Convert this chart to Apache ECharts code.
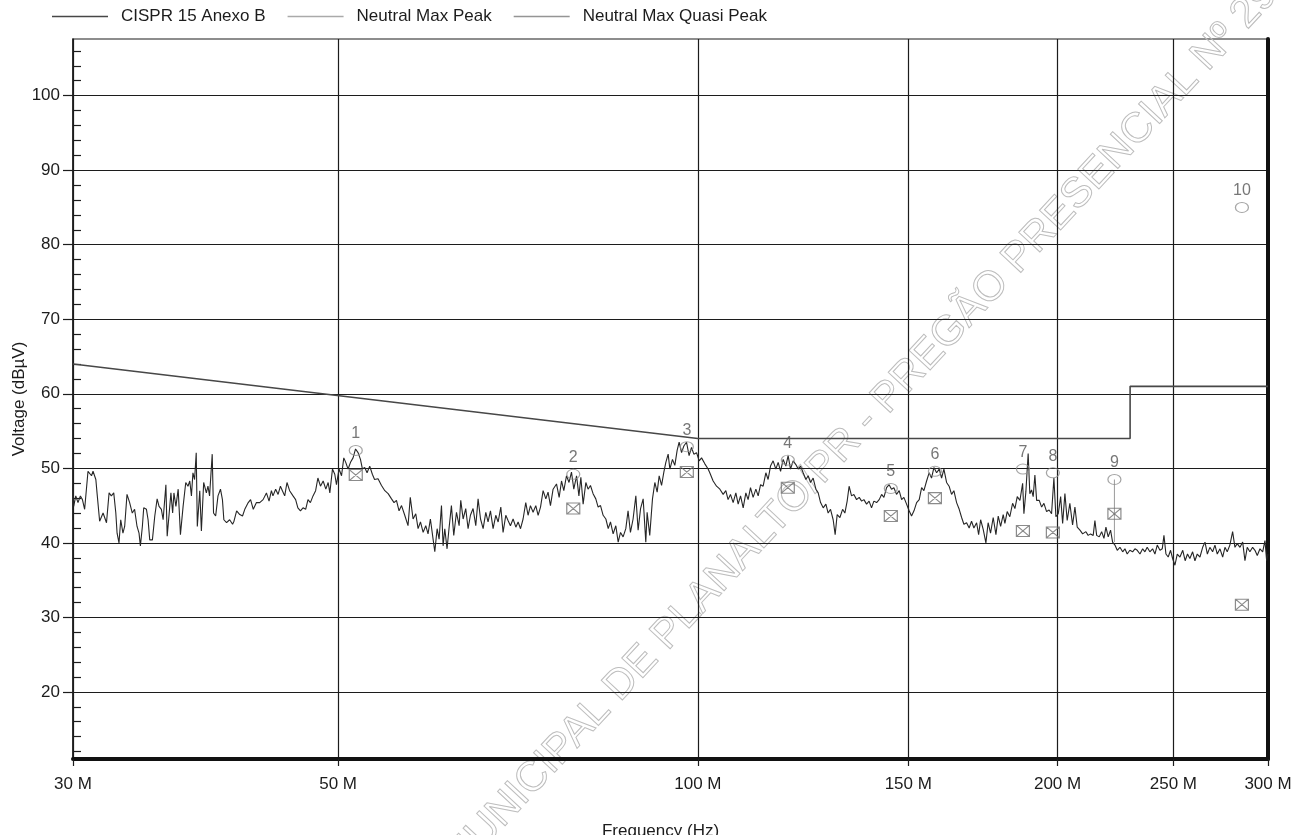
<!DOCTYPE html>
<html><head><meta charset="utf-8">
<script src="https://cdn.jsdelivr.net/npm/echarts@6/dist/echarts.min.js"></script>
<style>html,body{margin:0;padding:0;background:#fff}#c{width:1296px;height:835px}</style>
</head><body><div id="c"></div>
<script>
// ---- data ----
const xTickFreqs = [30, 50, 100, 150, 200, 250, 300];           // MHz
const yTickLevels = [20, 30, 40, 50, 60, 70, 80, 90, 100];      // dBuV
const yMinorLevels = [12,14,16,18,22,24,26,28,32,34,36,38,42,44,46,48,52,54,56,58,62,64,66,68,72,74,76,78,82,84,86,88,92,94,96,98,102,104,106];
const limitFreq  = [30, 100, 230, 230, 300];
const limitLevel = [64, 54, 54, 61, 61];
const markerFreq = [51.73, 78.66, 97.90, 118.93, 145.04, 157.90, 187.08, 198.20, 223.15, 285.3];
const peakLevel  = [52.4, 49.2, 52.9, 51.1, 47.3, 49.6, 49.9, 49.4, 48.5, 85.0];
const qpLevel    = [49.1, 44.6, 49.5, 47.4, 43.6, 46.0, 41.6, 41.4, 43.9, 31.7];
const dropLineLevels = [48.5, 40.1];
const traceFreq = [
30.00,30.04,30.16,30.29,30.43,30.55,30.68,30.88,31.09,31.18,31.35,31.43,31.58,31.79,32.00,32.16,32.30,32.45,32.58,32.66,
32.78,32.89,33.03,33.14,33.29,33.46,33.63,33.78,33.94,34.07,34.16,34.29,34.38,34.56,34.67,34.78,34.96,35.12,35.28,35.41,
35.57,35.69,35.88,35.97,36.11,36.23,36.35,36.44,36.58,36.74,36.90,37.09,37.28,37.44,37.57,37.69,37.80,37.92,38.04,38.12,
38.30,38.42,38.59,38.79,38.91,39.03,39.23,39.33,39.49,39.67,39.86,40.01,40.12,40.33,40.57,40.80,40.91,41.12,41.37,41.59,
41.77,42.05,42.24,42.46,42.72,42.99,43.27,43.55,43.77,43.97,44.10,44.33,44.54,44.74,44.91,45.11,45.31,45.54,45.84,46.07,
46.27,46.50,46.73,46.97,47.18,47.40,47.64,47.88,48.09,48.33,48.58,48.83,49.05,49.21,49.46,49.68,49.84,50.09,50.33,50.55,
50.74,50.97,51.21,51.46,51.71,51.96,52.20,52.40,52.63,52.87,53.14,53.41,53.64,54.00,54.36,54.71,55.06,55.42,55.69,55.95,
56.23,56.50,56.85,57.21,57.46,57.77,58.07,58.33,58.60,58.90,59.20,59.46,59.73,60.04,60.24,60.51,60.74,61.02,61.21,61.41,
61.68,61.91,62.20,62.48,62.81,63.13,63.33,63.62,63.94,64.23,64.52,64.85,65.19,65.48,65.79,66.12,66.46,66.75,67.06,67.40,
67.75,68.06,68.41,68.71,69.07,69.37,69.69,70.05,70.42,70.73,71.06,71.41,71.78,72.10,72.43,72.80,73.18,73.51,73.85,74.22,
74.61,74.93,75.28,75.66,76.16,76.55,76.90,77.24,77.64,78.02,78.39,78.74,79.16,79.52,79.82,80.17,80.59,80.94,81.31,81.72,
82.15,82.52,82.90,83.32,83.76,84.14,84.51,84.94,85.38,85.77,86.16,86.59,87.04,87.42,87.82,88.27,88.74,89.13,89.55,90.00,
90.46,90.69,91.15,91.63,92.05,92.46,92.82,93.25,93.66,94.02,94.44,94.75,95.23,95.66,96.09,96.46,96.91,97.34,97.84,98.33,
98.79,99.23,99.75,100.26,100.72,101.36,102.00,102.33,102.99,103.67,104.34,105.00,105.54,106.00,106.49,107.04,107.60,108.08,108.58,109.13,
109.69,110.17,110.68,111.24,111.83,112.33,112.85,113.41,114.00,114.50,115.03,115.61,116.22,116.74,117.28,117.87,118.48,119.00,119.55,120.16,
120.79,121.33,121.89,122.50,123.14,123.69,124.25,124.88,125.54,126.10,126.68,127.32,127.98,128.54,129.13,129.79,130.29,130.80,131.49,132.17,
132.75,133.34,133.84,134.47,135.07,135.78,136.47,137.10,137.71,138.42,139.09,139.75,140.38,141.12,141.83,142.49,143.12,143.86,144.57,145.24,
145.90,146.64,147.40,148.09,148.74,149.51,150.25,150.95,151.66,152.43,153.20,153.91,154.59,155.39,156.15,156.88,157.59,158.42,159.22,159.95,
160.66,161.49,162.28,163.05,163.78,164.64,165.47,166.24,166.97,167.84,168.67,169.45,170.22,171.11,171.78,172.44,173.30,174.20,174.95,175.77,
176.67,177.60,178.39,179.22,180.11,180.70,181.50,182.42,183.39,184.22,185.05,186.01,186.98,187.44,188.16,188.98,189.59,190.22,190.82,191.45,
192.09,193.06,193.95,194.81,195.81,196.77,197.70,198.59,199.36,200.26,201.19,201.96,202.85,203.74,204.79,205.87,206.80,207.72,208.81,209.90,
211.22,212.14,213.13,214.21,214.92,215.64,216.72,217.73,218.69,219.53,220.50,221.50,222.37,223.37,224.37,225.54,226.72,227.72,228.72,229.89,
231.11,232.15,233.19,234.41,235.63,236.67,237.70,238.92,240.19,241.27,242.35,243.62,244.70,245.50,246.44,247.52,248.65,249.62,250.75,251.88,
253.19,254.56,255.73,256.90,258.07,259.44,260.61,261.77,263.14,264.51,265.71,266.92,268.21,269.64,270.85,272.06,273.48,274.91,276.12,277.34,
278.75,280.23,281.49,282.75,284.23,285.71,286.97,288.23,289.71,291.24,292.55,293.86,295.40,296.94,298.25,299.22,300.00
];
const traceLevel = [
47.6,44.9,46.3,45.4,46.3,45.8,44.5,49.6,49.0,49.6,48.5,46.5,42.9,44.0,42.7,46.7,46.3,46.7,44.0,41.3,
40.0,43.1,41.3,42.2,46.5,45.4,44.0,44.5,42.2,41.3,39.6,42.2,44.7,44.5,43.1,40.4,40.4,43.6,45.9,44.9,
44.5,43.1,47.8,40.9,44.0,46.7,44.0,46.7,44.9,47.2,41.1,44.9,48.1,47.6,48.3,46.3,49.4,48.5,52.1,42.2,
47.0,41.6,48.1,46.7,47.6,46.3,51.9,44.0,43.6,46.3,47.2,45.8,43.1,42.7,43.1,42.5,42.9,44.3,43.8,43.6,
44.5,45.4,45.8,44.5,45.4,45.4,45.8,46.7,45.6,47.0,46.3,47.2,46.5,47.6,47.0,46.3,48.1,47.0,46.3,45.8,
44.7,44.3,44.7,44.5,45.8,45.4,46.3,47.0,48.7,47.6,48.3,47.2,48.1,46.7,49.9,49.2,47.8,49.9,49.0,51.4,
50.8,49.9,50.8,51.4,52.6,52.1,51.2,49.9,50.1,49.4,50.3,49.2,48.5,48.6,47.7,47.0,46.6,45.9,45.4,45.7,
44.3,45.0,43.7,42.3,46.1,43.2,43.9,41.9,42.8,41.4,42.3,41.2,43.2,40.5,38.8,41.9,40.5,45.0,39.6,41.9,
39.2,41.9,45.0,41.0,44.1,42.3,45.7,43.2,44.6,41.9,43.7,44.6,42.3,45.9,43.2,41.9,44.1,42.8,44.3,41.9,
43.7,42.8,44.8,41.4,43.7,43.0,42.3,43.2,42.1,42.8,41.9,43.2,45.4,43.7,45.0,44.1,45.0,43.7,44.8,47.0,
45.9,46.8,45.0,47.2,47.9,46.1,48.3,47.0,49.0,48.1,49.5,47.2,49.0,46.3,48.8,45.2,48.1,47.2,47.7,46.6,
45.9,44.8,45.0,43.7,43.2,41.9,42.8,41.2,42.3,40.1,41.4,40.8,41.9,44.3,41.4,43.2,46.3,41.7,44.6,45.9,
40.1,44.1,41.0,45.9,48.1,46.8,49.0,47.7,49.5,50.8,51.9,49.9,51.2,50.4,52.4,53.5,52.1,53.0,53.5,51.7,
52.8,51.9,52.1,51.0,51.4,50.6,49.9,49.4,48.3,47.6,47.2,46.5,47.0,45.8,46.5,45.4,46.7,45.2,46.3,44.7,
46.7,45.8,47.4,46.1,47.2,46.3,47.8,47.6,49.4,48.5,50.3,51.0,49.9,50.8,49.6,51.2,50.3,51.7,49.9,51.0,
50.5,49.9,50.3,49.4,48.5,49.0,48.1,48.7,47.2,46.7,45.4,44.7,45.2,44.0,44.5,43.1,41.1,43.8,43.4,44.5,
44.0,45.6,47.6,46.3,46.5,45.8,46.1,45.6,45.8,45.2,45.6,44.7,45.6,45.4,45.8,46.5,46.1,47.4,47.8,47.2,
47.4,46.5,47.0,45.8,46.1,45.2,44.3,43.6,44.3,45.4,45.8,47.4,47.0,48.3,49.4,48.7,50.1,49.4,49.9,48.7,
49.9,48.1,47.6,46.5,47.0,45.4,44.5,43.4,42.5,42.7,42.0,42.9,42.0,42.7,41.1,43.1,41.8,40.0,42.7,41.3,
43.4,41.1,43.6,42.2,43.8,42.6,44.2,43.5,45.3,44.6,46.2,45.7,48.0,43.9,46.9,52.0,46.6,47.1,46.2,49.1,
45.7,45.7,44.8,45.3,44.2,44.4,43.9,48.7,43.5,43.9,46.2,42.6,46.6,43.0,45.3,42.4,44.8,42.1,41.7,41.2,
41.5,41.0,41.2,41.0,43.0,41.0,40.8,41.5,40.6,42.1,40.8,41.7,40.1,39.7,39.0,39.4,38.8,39.2,38.5,39.0,
38.8,39.2,39.0,38.5,39.2,38.8,39.4,38.8,39.2,38.5,39.7,39.0,39.2,41.0,38.5,38.1,39.0,37.9,37.0,38.5,
38.1,39.0,37.6,38.5,37.9,38.8,37.6,38.5,38.1,39.4,40.1,38.5,39.4,38.8,39.7,38.5,39.2,38.1,39.4,38.8,
39.7,41.5,39.4,39.9,39.4,40.1,37.6,39.4,38.8,39.4,39.0,38.3,39.2,38.8,40.3,37.6,38.5
];

// ---- chart ----
const FONT = '"Liberation Sans", Arial, sans-serif';
const ink = '#1c1c1c';
const zip = (a, b) => a.map((v, i) => [v, b[i]]);
const chart = echarts.init(document.getElementById('c'));
const yBase = { type: 'value', min: 11, max: 107.6, scale: true };
chart.setOption({
  animation: false,
  backgroundColor: '#ffffff',
  textStyle: { fontFamily: FONT },
  legend: {
    left: 47, top: 3, itemWidth: 56, itemHeight: 1.5, itemGap: 22, selectedMode: false,
    textStyle: { fontSize: 17, color: ink, fontFamily: FONT, padding: [0, 0, 0, 8] },
    data: [
      { name: 'CISPR 15 Anexo B', icon: 'rect', itemStyle: { color: '#474747', borderWidth: 0 } },
      { name: 'Neutral Max Peak', icon: 'rect', itemStyle: { color: '#aaaaaa', borderWidth: 0 } },
      { name: 'Neutral Max Quasi Peak', icon: 'rect', itemStyle: { color: '#7a7a7a', borderWidth: 0 } }
    ]
  },
  grid: {
    left: 73, right: 28, top: 39, bottom: 76, show: true, borderColor: ink, borderWidth: 1.2,
    containLabel: false, outerBoundsMode: 'none'
  },
  xAxis: {
    type: 'log', logBase: 10, min: 30, max: 300,
    name: 'Frequency (Hz)', nameLocation: 'middle', nameGap: 64, nameMoveOverlap: false,
    nameTextStyle: { fontSize: 17, color: ink, fontFamily: FONT, padding: [0, 20, 0, 0] },
    axisLine: { show: true, onZero: false, lineStyle: { color: '#111', width: 4 } },
    axisTick: { show: true, customValues: xTickFreqs, length: 7, lineStyle: { color: ink, width: 1.2 } },
    axisLabel: { customValues: xTickFreqs, formatter: v => Math.round(v) + ' M', fontSize: 17, color: ink, margin: 17, fontFamily: FONT },
    splitLine: { show: true, lineStyle: { color: ink, width: 1.2 } },
    minorTick: { show: false }, minorSplitLine: { show: false }
  },
  yAxis: [
    Object.assign({}, yBase, {
      position: 'left',
      name: 'Voltage (dBµV)', nameLocation: 'middle', nameGap: 45, nameMoveOverlap: false,
      nameTextStyle: { fontSize: 17, color: ink, fontFamily: FONT },
      axisLine: { show: true, lineStyle: { color: ink, width: 1.5 } },
      axisTick: { show: true, customValues: yTickLevels, length: 10, lineStyle: { color: ink, width: 1.2 } },
      axisLabel: { customValues: yTickLevels, fontSize: 17, color: ink, margin: 13, fontFamily: FONT },
      splitLine: { show: true, lineStyle: { color: ink, width: 1.2 } }
    }),
    Object.assign({}, yBase, {
      position: 'left',
      axisLine: { show: false },
      axisTick: { show: true, inside: true, customValues: yMinorLevels, length: 8, lineStyle: { color: ink, width: 1.2 } },
      axisLabel: { show: false },
      splitLine: { show: false }
    }),
    Object.assign({}, yBase, {
      position: 'right',
      axisLine: { show: true, lineStyle: { color: '#111', width: 4 } },
      axisTick: { show: false }, axisLabel: { show: false }, splitLine: { show: false }
    })
  ],
  graphic: [{
    type: 'text', x: 860, y: 428, rotation: 47 * Math.PI / 180, z: 0, silent: true,
    style: {
      text: 'MUNICIPAL DE PLANALTO/PR - PREGÃO PRESENCIAL Nº 29',
      font: '42px "Liberation Sans", Arial, sans-serif',
      fill: 'rgba(0,0,0,0)', stroke: '#bdbdbd', lineWidth: 1,
      align: 'center', verticalAlign: 'middle'
    }
  }],
  series: [
    {
      name: 'Neutral Max Peak', type: 'line', data: zip(traceFreq, traceLevel),
      showSymbol: false, symbol: 'none', lineStyle: { color: '#262626', width: 1.1 }, itemStyle: { color: '#aaaaaa' }, z: 3
    },
    {
      name: 'CISPR 15 Anexo B', type: 'line', data: zip(limitFreq, limitLevel),
      showSymbol: false, symbol: 'none', lineStyle: { color: '#474747', width: 1.6 }, itemStyle: { color: '#474747' }, z: 4
    },
    {
      name: 'Neutral Max Quasi Peak', type: 'scatter', data: zip(markerFreq, qpLevel),
      symbol: 'path://M0,0H10V10H0Z M0,0L10,10 M10,0L0,10', symbolSize: [13, 11],
      itemStyle: { color: 'rgba(0,0,0,0)', borderColor: '#6e6e6e', borderWidth: 1.1 }, z: 5
    },
    {
      name: 'drop', type: 'line',
      data: [[markerFreq[8], dropLineLevels[0]], [markerFreq[8], dropLineLevels[1]]],
      showSymbol: false, symbol: 'none', lineStyle: { color: '#9a9a9a', width: 1 }, z: 4
    },
    {
      name: 'Neutral Max Peak', type: 'scatter', data: zip(markerFreq, peakLevel),
      symbol: 'circle', symbolSize: [13, 10],
      itemStyle: { color: 'rgba(0,0,0,0)', borderColor: '#8f8f8f', borderWidth: 1.1 },
      label: { show: true, position: 'top', distance: 3, formatter: p => String(p.dataIndex + 1), color: '#555', fontSize: 16, fontFamily: FONT },
      z: 6
    }
  ]
});
</script>
</body></html>
